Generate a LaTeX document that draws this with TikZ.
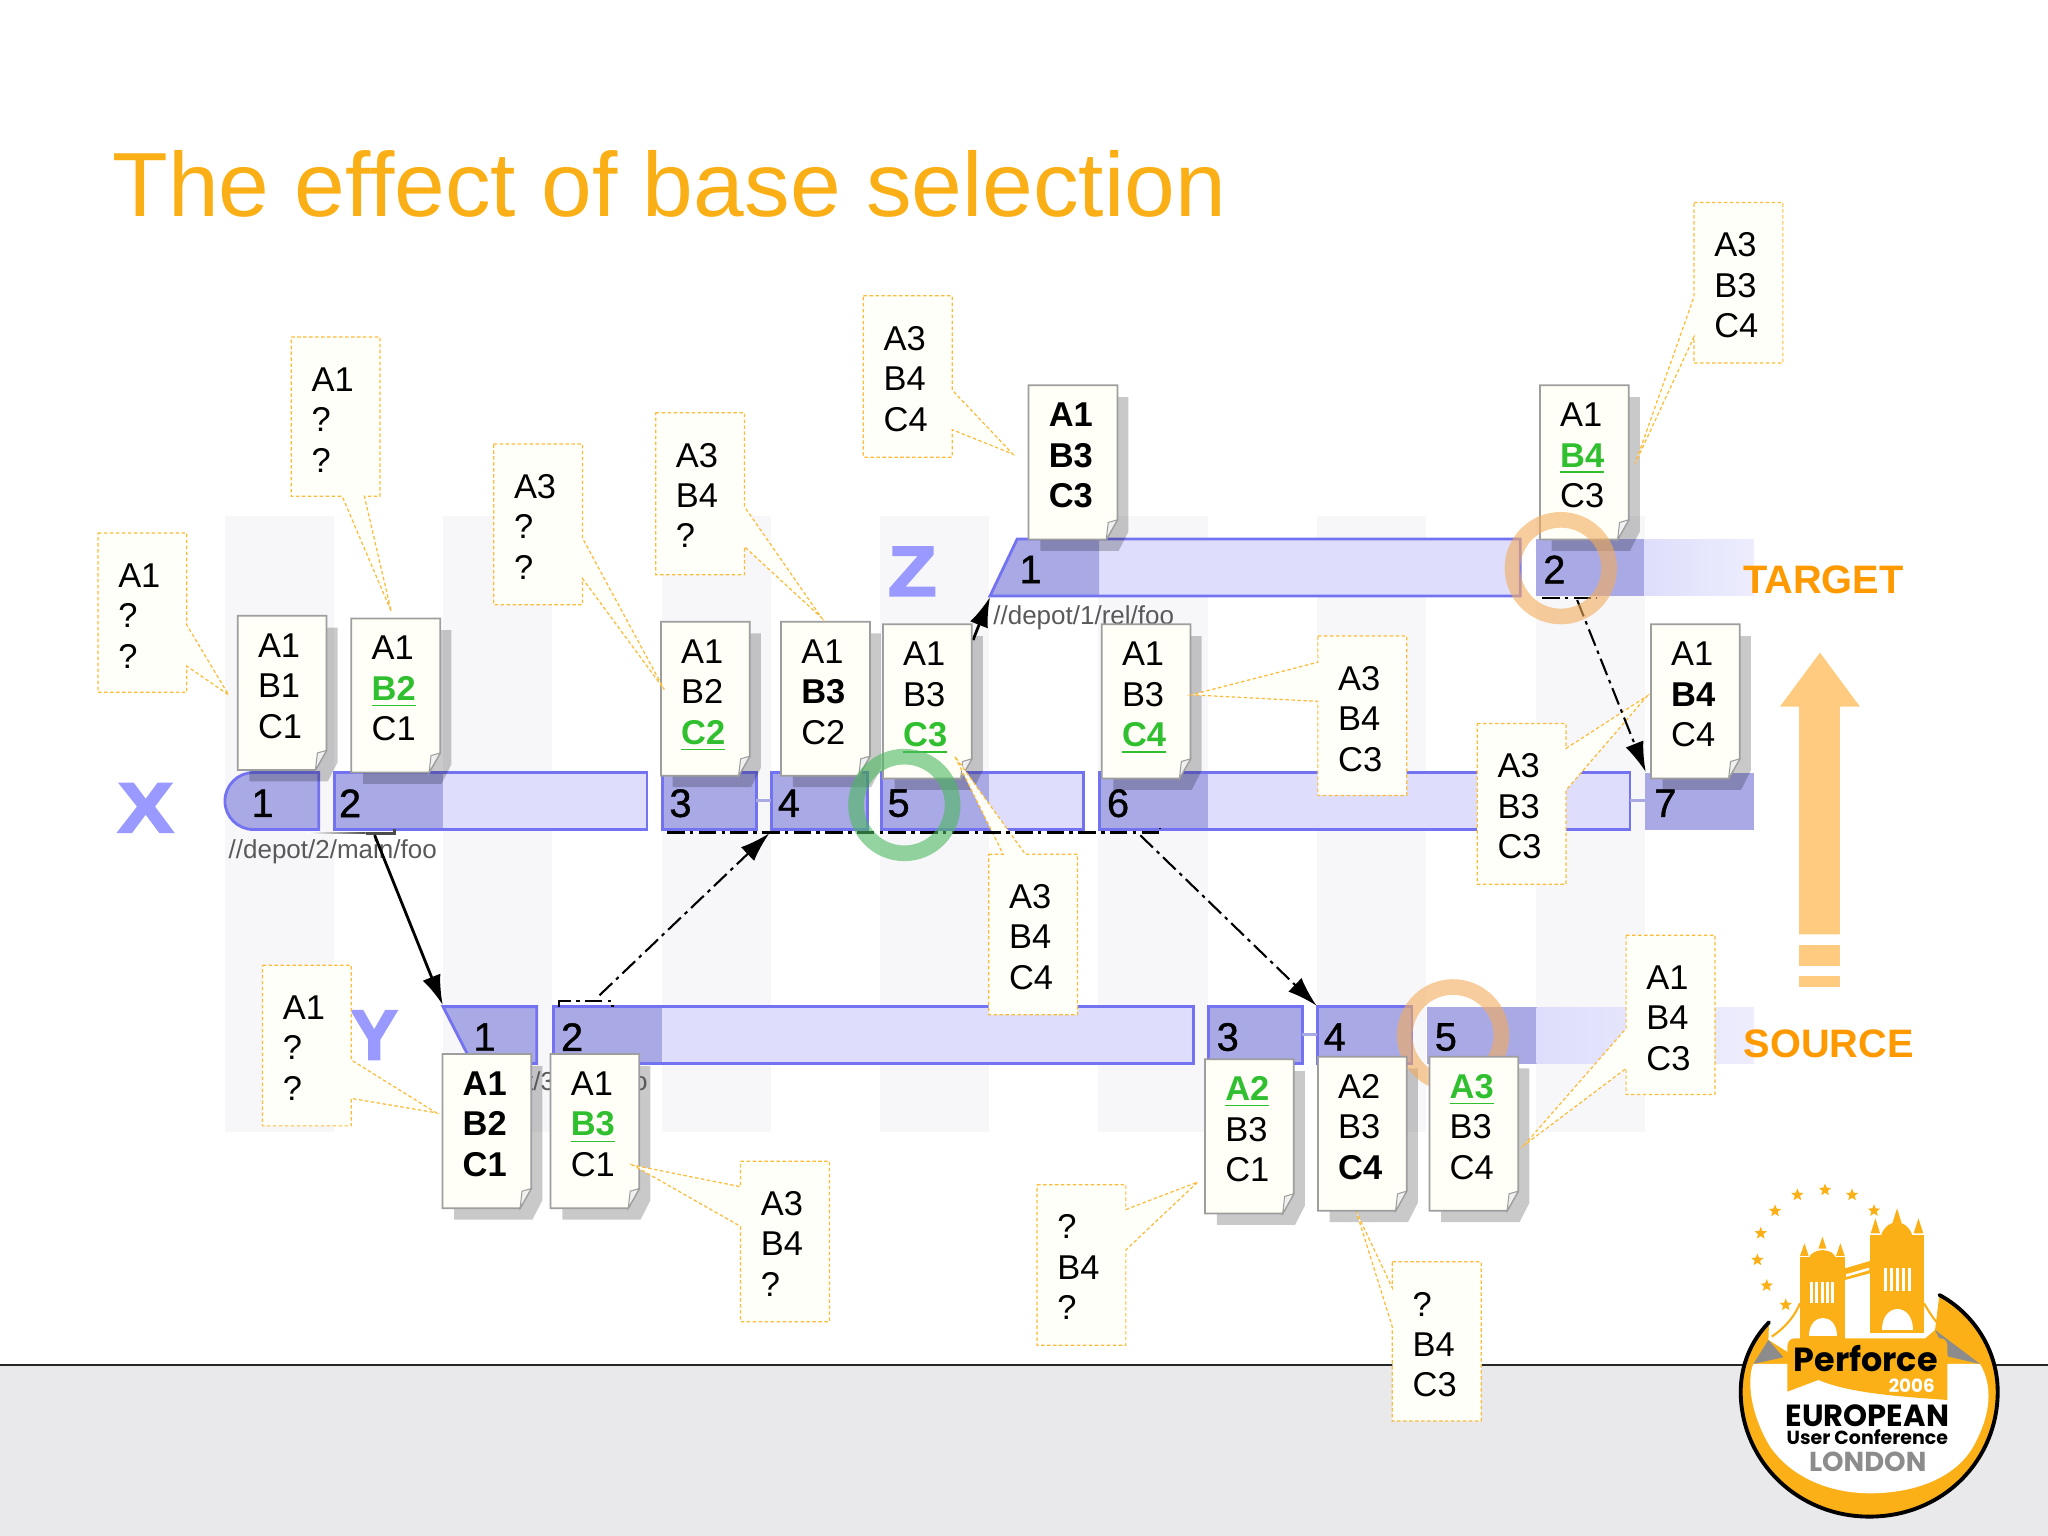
\documentclass[tikz,border=0pt]{standalone}
\usepackage{fontspec}
\usepackage{xcolor}
\setmainfont{Liberation Sans}
\newfontfamily\logofont{Poppins}
\newfontfamily\letterfont[FakeBold=3]{Liberation Sans Bold}
\newfontfamily\numfont[FakeBold=1]{Liberation Sans}
\usetikzlibrary{arrows.meta,shapes.geometric}
\definecolor{titleorange}{HTML}{FBAF17}
\definecolor{labelorange}{HTML}{FF9900}
\definecolor{arrowpeach}{HTML}{FFCB80}
\definecolor{pickgreen}{HTML}{2FBF2F}
\definecolor{bardark}{HTML}{A9A9E6}
\definecolor{barlight}{HTML}{DEDEFC}
\definecolor{barline}{HTML}{7373F2}
\definecolor{lettercol}{HTML}{9999FF}
\definecolor{stripecol}{HTML}{F7F7FA}
\definecolor{bandcol}{HTML}{E9E9EB}
\definecolor{logoyellow}{HTML}{FBB017}
\definecolor{ringgreen}{HTML}{4CB860}
\definecolor{ringorange}{HTML}{F2AC5C}
\pgfdeclarelayer{pages}
\pgfdeclarelayer{top}
\pgfsetlayers{main,pages,top}
\newcommand{\picked}[1]{\textcolor{pickgreen}{\textbf{\underline{#1}}}}
\newcommand{\docpage}[4]{
\fill[docshadow] (#2+9,#3+9) -- (#2+76.5,#3+9) -- (#2+76.5,#3+112) -- (#2+69,#3+126.7) -- (#2+9,#3+126.7) -- cycle;
\begin{pgfonlayer}{pages}
\draw[docsheet] (#2,#3) -- (#2+68,#3) -- (#2+68,#3+103) -- (#2+59.5,#3+118) -- (#2,#3+118) -- cycle;
\draw[docfold] (#2+59.5,#3+118) -- (#2+68,#3+103) -- (#2+61,#3+105) -- cycle;
\node[linetext] (#1) at (#2+15,#3+9.6) {\strut #4};
\end{pgfonlayer}
}
\newcommand{\barcell}[4]{
\fill[barlight] (#1,#4) rectangle (#3,#4+43.6);
\fill[bardark] (#1,#4) rectangle (#2,#4+43.6);
\draw[barline] (#1,#4) rectangle (#3,#4+43.6);
}
\newcommand{\callout}[4]{
\draw[callbox] #3;
\node[linetext,xshift=-0.13mm] (#1) at (#2) {\strut #4};
}
\begin{document}
\begin{tikzpicture}[x=0.130612mm,y=-0.130612mm,
stripe/.style={fill=stripecol},
docshadow/.style={fill=black,opacity=0.21},
docsheet/.style={fill=white!97!yellow,draw=black!38,line width=0.5pt},
docfold/.style={fill=black!6,draw=black!38,line width=0.3pt},
linetext/.style={anchor=north west,inner sep=0pt,align=left,font=\fontsize{9.8}{11.5}\selectfont},
callbox/.style={fill=white!98!yellow,draw=titleorange!85,line width=0.35pt,dash pattern=on 1pt off 0.7pt},
barline/.style={draw=barline,line width=0.8pt},
barnum/.style={font=\numfont\fontsize{11.3}{12}\selectfont,inner sep=0pt},
branchletter/.style={font=\letterfont\fontsize{20}{20}\selectfont,text=lettercol,inner sep=0pt},
depotlabel/.style={font=\fontsize{7.4}{8}\selectfont,text=black!65,inner sep=0pt,anchor=west},
sidelabel/.style={font=\fontsize{11.3}{12}\selectfont\bfseries,text=labelorange,inner sep=0pt},
solidarrow/.style={-{Latex[length=3mm,width=1.9mm]},line width=0.8pt},
dasharrow/.style={-{Latex[length=3mm,width=1.9mm]},line width=0.6pt,dash pattern=on 5pt off 1.5pt on 1pt off 1.5pt},
dashbracket/.style={line width=0.7pt,dash pattern=on 5pt off 1.5pt on 1pt off 1.5pt},
thinlink/.style={draw=bardark,line width=0.8pt},
ring/.style={line width=4.45pt,opacity=0.6},
logostar/.style={star,star points=5,star point ratio=2.3,fill=logoyellow,inner sep=0pt,minimum size=0.13cm}]
\useasboundingbox (0,0) rectangle (1568,1176);
\fill[bandcol] (0,1045) rectangle (1568,1176);
\draw[line width=0.7pt,black!85] (0,1045) -- (1568,1045);
\foreach \sx in {172,339,507,674,841,1008,1176}
\fill[stripe] (\sx,395) rectangle (\sx+83.5,867);
\node[font=\fontsize{25.95}{28}\selectfont,text=titleorange,inner sep=0pt,anchor=base west] (title) at (85.5,166) {The effect of base selection};
\node[branchletter] (xletter) at (111.5,618.5) {\scalebox{1.18}[1]{X}};
\node[branchletter] (yletter) at (286.5,792.5) {Y};
\node[branchletter] (zletter) at (698.5,437.5) {\scalebox{1.12}[1]{Z}};
\fill[arrowpeach] (1393.4,499.7) -- (1424,541) -- (1408.7,541) -- (1408.7,715.3) -- (1377.5,715.3) -- (1377.5,541) -- (1362.8,541) -- cycle;
\fill[arrowpeach] (1377.5,723.6) rectangle (1408.7,739.4);
\fill[arrowpeach] (1377.5,747.3) rectangle (1408.7,755.4);
\filldraw[fill=bardark,barline] (244,591.5) -- (194,591.5) .. controls (182,591.5) and (172.2,601.3) .. (172.2,613.3) .. controls (172.2,625.3) and (182,635.1) .. (194,635.1) -- (244,635.1) -- cycle;
\barcell{256}{339}{495.4}{591.5}
\barcell{507}{579}{579}{591.5}
\barcell{590.6}{664}{664}{591.5}
\barcell{674.6}{757}{829.7}{591.5}
\barcell{841.6}{924.5}{1248}{591.5}
\fill[bardark] (1259.8,592) rectangle (1343,635.1);
\fill[barlight] (758,456.3) -- (778.8,412.7) -- (1164,412.7) -- (1164,456.3) -- cycle;
\fill[bardark] (758,456.3) -- (778.8,412.7) -- (841.6,412.7) -- (841.6,456.3) -- cycle;
\draw[barline] (758,456.3) -- (778.8,412.7) -- (1164,412.7) -- (1164,456.3) -- cycle;
\fill[bardark] (1175.8,413) rectangle (1259,456.3);
\shade[left color=barlight,right color=barlight!55!white] (1259,413) rectangle (1343,456.3);
\filldraw[fill=bardark,barline] (339.2,770.7) -- (411,770.7) -- (411,814.3) -- (361.6,814.3) -- cycle;
\barcell{424}{507}{913.8}{770.7}
\barcell{925}{997}{997}{770.7}
\barcell{1008.5}{1081}{1081}{770.7}
\fill[bardark] (1092.6,771) rectangle (1176.5,814.3);
\shade[left color=barlight,right color=barlight!55!white] (1176.5,771) rectangle (1343,814.3);
\node[sidelabel] (target) at (1396,444) {TARGET};
\node[sidelabel] (source) at (1400,799.5) {SOURCE};
\coordinate (xthreeEnd) at (579,613);
\coordinate (xfourStart) at (590.6,613);
\coordinate (xsixEnd) at (1248,613);
\coordinate (xsevenStart) at (1259.8,613);
\coordinate (ythreeEnd) at (997,792);
\coordinate (yfourStart) at (1008.5,792);
\draw[thinlink] (xthreeEnd) -- (xfourStart);
\draw[thinlink] (xsixEnd) -- (xsevenStart);
\draw[thinlink] (ythreeEnd) -- (yfourStart);
\node[barnum] (xone) at (201,615) {1};
\node[barnum] (xtwo) at (268,615) {2};
\node[barnum] (xthree) at (521,615) {3};
\node[barnum] (xfour) at (604,615) {4};
\node[barnum] (xfive) at (688,615) {5};
\node[barnum] (xsix) at (856,615) {6};
\node[barnum] (xseven) at (1275,615) {7};
\node[barnum] (zone) at (789,436) {1};
\node[barnum] (ztwo) at (1190,436) {2};
\node[barnum] (yone) at (371,794) {1};
\node[barnum] (ytwo) at (438,794) {2};
\node[barnum] (ythree) at (940,794) {3};
\node[barnum] (yfour) at (1022,794) {4};
\node[barnum] (yfive) at (1107,794) {5};
\docpage{docxone}{182}{471.5}{A1\\B1\\C1}
\docpage{docxtwo}{269}{473.5}{A1\\\picked{B2}\\C1}
\docpage{docxthree}{506}{476}{A1\\B2\\\picked{C2}}
\docpage{docxfour}{598}{476}{A1\\\textbf{B3}\\C2}
\docpage{docxfive}{676}{478}{A1\\B3\\\picked{C3}}
\docpage{docxsix}{843.5}{478}{A1\\B3\\\picked{C4}}
\docpage{docxseven}{1264}{478}{A1\\\textbf{B4}\\C4}
\docpage{doczone}{787.5}{295}{\textbf{A1}\\\textbf{B3}\\\textbf{C3}}
\docpage{docztwo}{1179}{295}{A1\\\picked{B4}\\C3}
\docpage{docyone}{338.7}{807}{\textbf{A1}\\\textbf{B2}\\\textbf{C1}}
\docpage{docytwo}{421.5}{807}{A1\\\picked{B3}\\C1}
\docpage{docythree}{922.6}{811}{\picked{A2}\\B3\\C1}
\docpage{docyfour}{1009}{809}{A2\\B3\\\textbf{C4}}
\docpage{docyfive}{1094.4}{809}{\picked{A3}\\B3\\C4}
\node[depotlabel] (depotx) at (174.5,652) {//depot/2/main/foo};
\node[depotlabel] (depotz) at (760,473) {//depot/1/rel/foo};
\node[depotlabel] (depoty) at (347,830) {//depot/3/dev/foo};
\draw[ring,draw=ringorange] (1112.5,792.7) circle (37);
\coordinate (xfiveOut) at (745,490);
\coordinate (zoneIn) at (758,457);
\draw[solidarrow] (xfiveOut) -- (zoneIn);
\begin{pgfonlayer}{top}
\callout{notea}{91,427.4}{(75,408) -- (143,408) -- (143,478.5) -- (175,532) -- (143,510) -- (143,530) -- (75,530) -- cycle}{A1\\?\\?}
\callout{noteb}{239,277.4}{(223,258) -- (291,258) -- (291,380) -- (279,380) -- (299.5,468) -- (262,380) -- (223,380) -- cycle}{A1\\?\\?}
\callout{notec}{394,359.4}{(378,340) -- (446,340) -- (446,412) -- (508.6,528) -- (446,443) -- (446,463) -- (378,463) -- cycle}{A3\\?\\?}
\callout{noted}{518,335.4}{(502,316) -- (570,316) -- (570,388) -- (629,473) -- (570,418.6) -- (570,440) -- (502,440) -- cycle}{A3\\B4\\?}
\callout{notee}{677,245.9}{(661,226.5) -- (729,226.5) -- (729,298.6) -- (775.4,347.6) -- (729,329) -- (729,350) -- (661,350) -- cycle}{A3\\B4\\C4}
\callout{notef}{1313,174.4}{(1297,155) -- (1365,155) -- (1365,278) -- (1297,278) -- (1297,257.8) -- (1252,354.7) -- (1297,227) -- cycle}{A3\\B3\\C4}
\callout{noteg}{1025,506.4}{(1009,487) -- (1077,487) -- (1077,609) -- (1009,609) -- (1009,537) -- (912,532) -- (1009,507) -- cycle}{A3\\B4\\C3}
\callout{noteh}{1147,573.4}{(1131,554) -- (1199,554) -- (1199,573) -- (1261,533) -- (1199,605) -- (1199,677) -- (1131,677) -- cycle}{A3\\B3\\C3}
\callout{notei}{773,673.4}{(757,654) -- (768,654) -- (731,579) -- (785,654) -- (825,654) -- (825,777) -- (757,777) -- cycle}{A3\\B4\\C4}
\callout{notej}{217,758.4}{(201,739) -- (269,739) -- (269,811.6) -- (334,852) -- (269,841) -- (269,862) -- (201,862) -- cycle}{A1\\?\\?}
\callout{notek}{583,908.4}{(567,889) -- (635,889) -- (635,1012) -- (567,1012) -- (567,939) -- (484.4,892) -- (567,908.6) -- cycle}{A3\\B4\\?}
\callout{notel}{810,926.4}{(794,907) -- (862,907) -- (862,926) -- (917,905) -- (862,957) -- (862,1030) -- (794,1030) -- cycle}{?\\B4\\?}
\callout{notem}{1082,985.4}{(1066,966) -- (1134,966) -- (1134,1088) -- (1066,1088) -- (1066,1016) -- (1038.5,928) -- (1066,986) -- cycle}{?\\B4\\C3}
\callout{noten}{1261,735.4}{(1245,716) -- (1313,716) -- (1313,838) -- (1245,838) -- (1245,818) -- (1167,876.7) -- (1245,787.4) -- cycle}{A1\\B4\\C3}
\coordinate (xtwoOut) at (286.8,639.4);
\coordinate (yoneIn) at (339,769.5);
\coordinate (ytwoOut) at (459,762);
\coordinate (xfourIn) at (589,638);
\coordinate (xsixOut) at (873,639.5);
\coordinate (yfourIn) at (1008,770);
\coordinate (ztwoOut) at (1207.5,459.4);
\coordinate (xsevenIn) at (1260,591);
\coordinate (bxa) at (510.7,637.5);
\coordinate (bxb) at (888,637.5);
\coordinate (bxc) at (888,634);
\coordinate (bya) at (427.8,770.7);
\coordinate (byb) at (427.8,766.5);
\coordinate (byc) at (468.8,766.5);
\coordinate (byd) at (468.8,770.7);
\coordinate (bza) at (1180.6,458);
\coordinate (bzb) at (1223,458);
\coordinate (btwoa) at (280,638);
\coordinate (btwob) at (302,638);
\coordinate (btwoc) at (302,635);
\shade[left color=white,right color=black!70] (236,637.6) rectangle (280,638.4);
\draw[line width=0.7pt,black!70] (btwoa) -- (btwob) -- (btwoc);
\draw[dashbracket] (bxa) -- (bxb) -- (bxc);
\draw[dashbracket] (bya) -- (byb) -- (byc) -- (byd);
\draw[dashbracket] (bza) -- (bzb);
\draw[solidarrow] (xtwoOut) -- (yoneIn);
\draw[dasharrow] (ytwoOut) -- (xfourIn);
\draw[dasharrow] (xsixOut) -- (yfourIn);
\draw[dasharrow] (ztwoOut) -- (xsevenIn);
\draw[ring,draw=ringgreen] (692.4,616.3) circle (37);
\draw[ring,draw=ringorange] (1195,435) circle (37);
\begin{scope}[shift={(1301.6,888.1)},scale=0.2552]
\fill[logoyellow] (207,487) .. controls (150,545) and (122,620) .. (122,695) .. controls (122,900) and (290,1070) .. (508,1070) .. controls (730,1070) and (893,900) .. (893,695) .. controls (893,570) and (820,460) .. (718,405) -- (705,510) -- (600,600) -- (300,600) -- (205,540) -- cycle;
\fill[white] (160,612) .. controls (140,660) and (150,760) .. (210,860) .. controls (280,960) and (400,1000) .. (510,1000) .. controls (650,1000) and (780,950) .. (830,840) .. controls (870,760) and (880,680) .. (840,612) -- cycle;
\fill[black!45] (160,612) -- (205,540) -- (250,592) -- cycle;
\fill[black!45] (705,510) -- (840,612) -- (745,590) -- cycle;
\draw[line width=1.1pt,black,line cap=round] (207,487) .. controls (150,545) and (122,620) .. (122,695) .. controls (122,900) and (290,1070) .. (508,1070) .. controls (730,1070) and (893,900) .. (893,695) .. controls (893,570) and (820,460) .. (718,405);
\draw[line width=0.6pt,logoyellow] (215,530) .. controls (260,500) and (285,465) .. (300,430);
\draw[line width=0.6pt,logoyellow] (672,430) .. controls (700,480) and (730,520) .. (790,540);
\fill[logoyellow] (300,292) rectangle (435,540);
\fill[logoyellow] (326,296) .. controls (335,262) and (400,262) .. (408,296) -- cycle;
\fill[logoyellow] (313,250) -- (326,288) -- (300,288) -- cycle;
\fill[logoyellow] (367,230) -- (379,266) -- (355,266) -- cycle;
\fill[logoyellow] (421,250) -- (434,288) -- (408,288) -- cycle;
\fill[logoyellow] (510,225) rectangle (672,520);
\fill[logoyellow] (540,240) .. controls (550,170) and (630,170) .. (640,240) -- cycle;
\fill[logoyellow] (526,175) -- (540,220) -- (512,220) -- cycle;
\fill[logoyellow] (591,145) -- (605,190) -- (577,190) -- cycle;
\fill[logoyellow] (655,175) -- (670,220) -- (641,220) -- cycle;
\fill[logoyellow] (435,325) -- (510,303) -- (510,340) -- (435,360) -- cycle;
\fill[white] (438,343) -- (507,323) -- (507,331) -- (438,351) -- cycle;
\foreach \wx in {330,346,362,378,394}
\fill[white] (\wx,367) rectangle (\wx+9,428);
\foreach \wx in {552,570,588,606,624}
\fill[white] (\wx,323) rectangle (\wx+10,392);
\fill[white] (327,528) .. controls (327,455) and (412,455) .. (412,528) -- cycle;
\fill[white] (545,510) .. controls (545,425) and (640,425) .. (640,510) -- cycle;
\fill[logoyellow] (262,560) .. controls (262,545) and (270,535) .. (285,535) -- (720,535) .. controls (735,535) and (742,545) .. (742,560) -- (742,720) .. controls (600,710) and (450,700) .. (355,660) -- (262,695) -- cycle;
\foreach \sx/\sy in {522/152,456/105,375/90,292/105,225/153,182/220,172/300,200/377,257/435}
\node[logostar] (star\sx) at (\sx,\sy) {};
\node[inner sep=0pt,font=\logofont\fontsize{9.5}{10}\selectfont\bfseries] (perforce) at (497,597) {Perforce};
\node[inner sep=0pt,text=white,font=\logofont\fontsize{5.2}{6}\selectfont\bfseries] (year) at (635,677) {2006};
\node[inner sep=0pt,font=\logofont\fontsize{8.7}{9}\selectfont\bfseries] (european) at (502,768) {EUROPEAN};
\node[inner sep=0pt,font=\logofont\fontsize{5.4}{6}\selectfont\bfseries] (userconf) at (502,833) {User Conference};
\node[inner sep=0pt,text=black!45,font=\logofont\fontsize{7.8}{8}\selectfont\bfseries] (london) at (503,905) {LONDON};
\end{scope}
\end{pgfonlayer}
\end{tikzpicture}
\end{document}
